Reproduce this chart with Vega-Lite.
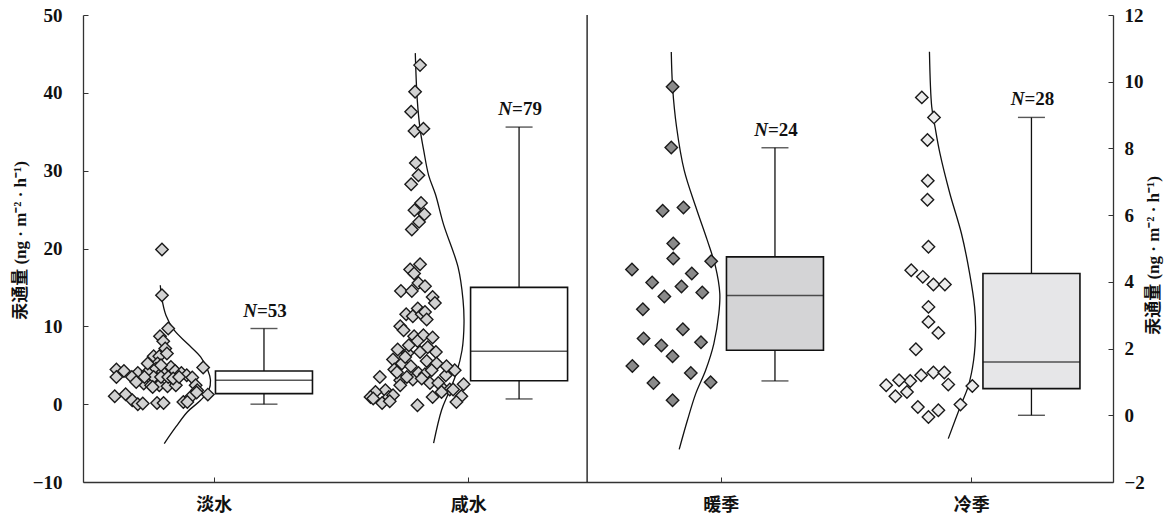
{
  "$schema": "https://vega.github.io/schema/vega-lite/v6.json",
  "width": 1030,
  "height": 467,
  "autosize": "none",
  "padding": {"left": 83, "top": 15, "right": 58, "bottom": 35},
  "background": "white",
  "config": {"view": {"stroke": null}, "font": "Liberation Serif"},
  "datasets": {
    "div": [{"x": 5.04}],
    "ptsL": [
      {"g":"淡水","x":0.747,"v":19.87},{"g":"淡水","x":0.747,"v":14.0},{"g":"淡水","x":0.81,"v":9.72},{"g":"淡水","x":0.727,"v":8.73},
      {"g":"淡水","x":0.76,"v":8.08},{"g":"淡水","x":0.78,"v":7.15},{"g":"淡水","x":0.663,"v":6.16},{"g":"淡水","x":0.72,"v":6.16},
      {"g":"淡水","x":0.797,"v":6.5},{"g":"淡水","x":0.703,"v":5.22},{"g":"淡水","x":1.163,"v":4.7},{"g":"淡水","x":0.287,"v":4.45},
      {"g":"淡水","x":0.363,"v":4.27},{"g":"淡水","x":0.503,"v":4.0},{"g":"淡水","x":0.443,"v":3.5},{"g":"淡水","x":0.603,"v":4.14},
      {"g":"淡水","x":0.687,"v":4.57},{"g":"淡水","x":0.753,"v":4.14},{"g":"淡水","x":0.837,"v":4.78},{"g":"淡水","x":0.88,"v":4.27},
      {"g":"淡水","x":0.943,"v":4.0},{"g":"淡水","x":0.997,"v":3.71},{"g":"淡水","x":1.053,"v":3.42},{"g":"淡水","x":0.287,"v":3.5},
      {"g":"淡水","x":0.563,"v":2.65},{"g":"淡水","x":0.637,"v":2.43},{"g":"淡水","x":0.72,"v":2.43},{"g":"淡水","x":0.803,"v":2.3},
      {"g":"淡水","x":0.887,"v":2.43},{"g":"淡水","x":0.663,"v":3.5},{"g":"淡水","x":0.737,"v":3.5},{"g":"淡水","x":0.81,"v":3.5},
      {"g":"淡水","x":1.087,"v":2.43},{"g":"淡水","x":1.103,"v":1.79},{"g":"淡水","x":0.27,"v":1.02},{"g":"淡水","x":0.38,"v":1.27},
      {"g":"淡水","x":0.447,"v":0.5},{"g":"淡水","x":0.503,"v":0.0},{"g":"淡水","x":0.553,"v":0.08},{"g":"淡水","x":0.697,"v":0.15},
      {"g":"淡水","x":0.763,"v":0.15},{"g":"淡水","x":0.963,"v":0.28},{"g":"淡水","x":1.037,"v":0.93},{"g":"淡水","x":1.097,"v":1.49},
      {"g":"淡水","x":1.21,"v":1.23},{"g":"淡水","x":0.86,"v":3.29},{"g":"淡水","x":0.92,"v":3.5},{"g":"淡水","x":0.603,"v":5.22},
      {"g":"淡水","x":0.653,"v":2.21},{"g":"淡水","x":0.737,"v":5.0},{"g":"淡水","x":0.57,"v":3.5},{"g":"淡水","x":1.003,"v":0.28},
      {"g":"淡水","x":0.487,"v":2.85},
      {"g":"咸水","x":3.353,"v":43.56},{"g":"咸水","x":3.303,"v":40.13},{"g":"咸水","x":3.263,"v":37.56},{"g":"咸水","x":3.297,"v":35.1},
      {"g":"咸水","x":3.387,"v":35.4},{"g":"咸水","x":3.31,"v":31.0},{"g":"咸水","x":3.337,"v":29.42},{"g":"咸水","x":3.263,"v":28.26},
      {"g":"咸水","x":3.363,"v":25.86},{"g":"咸水","x":3.297,"v":24.92},{"g":"咸水","x":3.397,"v":24.4},{"g":"咸水","x":3.343,"v":23.42},
      {"g":"咸水","x":3.27,"v":22.44},
      {"g":"咸水","x":3.353,"v":17.98},{"g":"咸水","x":3.253,"v":17.3},{"g":"咸水","x":3.293,"v":16.79},{"g":"咸水","x":3.337,"v":15.58},
      {"g":"咸水","x":3.16,"v":14.55},{"g":"咸水","x":3.27,"v":14.55},{"g":"咸水","x":3.403,"v":15.15},{"g":"咸水","x":3.48,"v":13.78},
      {"g":"咸水","x":3.503,"v":13.0},{"g":"咸水","x":3.33,"v":12.29},{"g":"咸水","x":3.213,"v":11.56},{"g":"咸水","x":3.28,"v":11.3},
      {"g":"咸水","x":3.37,"v":11.56},{"g":"咸水","x":3.403,"v":11.85},{"g":"咸水","x":3.42,"v":10.87},{"g":"咸水","x":3.153,"v":10.0},
      {"g":"咸水","x":3.187,"v":9.5},{"g":"咸水","x":3.293,"v":8.73},{"g":"咸水","x":3.387,"v":8.86},{"g":"咸水","x":3.48,"v":8.56},
      {"g":"咸水","x":3.327,"v":8.12},{"g":"咸水","x":3.127,"v":7.02},{"g":"咸水","x":3.227,"v":6.58},{"g":"咸水","x":3.353,"v":6.71},
      {"g":"咸水","x":3.513,"v":6.71},{"g":"咸水","x":3.08,"v":5.73},{"g":"咸水","x":3.17,"v":5.22},{"g":"咸水","x":3.26,"v":4.87},
      {"g":"咸水","x":3.42,"v":5.55},{"g":"咸水","x":3.52,"v":5.22},{"g":"咸水","x":3.093,"v":4.45},{"g":"咸水","x":2.947,"v":3.5},
      {"g":"咸水","x":3.153,"v":3.07},{"g":"咸水","x":3.28,"v":3.16},{"g":"咸水","x":3.337,"v":4.01},{"g":"咸水","x":3.403,"v":3.84},
      {"g":"咸水","x":3.613,"v":3.71},{"g":"咸水","x":3.703,"v":4.36},{"g":"咸水","x":3.153,"v":2.43},{"g":"咸水","x":3.453,"v":2.72},
      {"g":"咸水","x":3.537,"v":2.72},{"g":"咸水","x":3.593,"v":1.88},{"g":"咸水","x":3.653,"v":1.88},{"g":"咸水","x":3.793,"v":2.56},
      {"g":"咸水","x":3.003,"v":1.79},{"g":"咸水","x":2.903,"v":1.57},{"g":"咸水","x":2.853,"v":0.93},{"g":"咸水","x":2.88,"v":0.72},
      {"g":"咸水","x":3.037,"v":0.93},{"g":"咸水","x":3.08,"v":1.14},{"g":"咸水","x":2.97,"v":0.15},{"g":"咸水","x":3.047,"v":0.37},
      {"g":"咸水","x":3.48,"v":0.93},{"g":"咸水","x":3.687,"v":1.88},{"g":"咸水","x":3.77,"v":1.02},{"g":"咸水","x":3.72,"v":0.28},
      {"g":"咸水","x":3.327,"v":-0.14},{"g":"咸水","x":3.37,"v":3.29},{"g":"咸水","x":3.22,"v":3.5},{"g":"咸水","x":3.57,"v":1.57},
      {"g":"咸水","x":3.203,"v":6.07},{"g":"咸水","x":3.47,"v":4.36},{"g":"咸水","x":3.12,"v":4.1},{"g":"咸水","x":3.62,"v":4.87},
      {"g":"咸水","x":3.43,"v":7.31},{"g":"咸水","x":3.24,"v":7.57}
    ],
    "ptsR": [
      {"g":"暖季","x":5.903,"v":9.85},{"g":"暖季","x":5.89,"v":8.03},{"g":"暖季","x":5.803,"v":6.13},{"g":"暖季","x":6.013,"v":6.23},
      {"g":"暖季","x":5.91,"v":5.15},{"g":"暖季","x":5.91,"v":4.7},{"g":"暖季","x":6.293,"v":4.62},{"g":"暖季","x":5.493,"v":4.37},
      {"g":"暖季","x":6.097,"v":4.25},{"g":"暖季","x":5.697,"v":3.98},{"g":"暖季","x":5.993,"v":3.86},{"g":"暖季","x":6.203,"v":3.68},
      {"g":"暖季","x":5.82,"v":3.56},{"g":"暖季","x":5.603,"v":3.18},{"g":"暖季","x":6.007,"v":2.58},{"g":"暖季","x":5.61,"v":2.3},
      {"g":"暖季","x":5.79,"v":2.09},{"g":"暖季","x":6.19,"v":2.19},{"g":"暖季","x":5.903,"v":1.77},{"g":"暖季","x":5.497,"v":1.48},
      {"g":"暖季","x":6.087,"v":1.27},{"g":"暖季","x":5.71,"v":0.97},{"g":"暖季","x":6.287,"v":0.99},{"g":"暖季","x":5.903,"v":0.45},
      {"g":"冷季","x":8.42,"v":9.53},{"g":"冷季","x":8.543,"v":8.93},{"g":"冷季","x":8.477,"v":8.25},{"g":"冷季","x":8.48,"v":7.03},
      {"g":"冷季","x":8.477,"v":6.46},{"g":"冷季","x":8.487,"v":5.05},{"g":"冷季","x":8.313,"v":4.35},{"g":"冷季","x":8.43,"v":4.15},
      {"g":"冷季","x":8.537,"v":3.92},{"g":"冷季","x":8.653,"v":3.92},{"g":"冷季","x":8.487,"v":3.25},{"g":"冷季","x":8.487,"v":2.8},
      {"g":"冷季","x":8.587,"v":2.47},{"g":"冷季","x":8.36,"v":1.98},{"g":"冷季","x":8.06,"v":0.9},{"g":"冷季","x":8.153,"v":0.57},
      {"g":"冷季","x":8.27,"v":0.7},{"g":"冷季","x":8.303,"v":1.03},{"g":"冷季","x":8.413,"v":1.2},{"g":"冷季","x":8.537,"v":1.28},
      {"g":"冷季","x":8.647,"v":1.28},{"g":"冷季","x":8.687,"v":0.92},{"g":"冷季","x":8.93,"v":0.88},{"g":"冷季","x":8.81,"v":0.32},
      {"g":"冷季","x":8.38,"v":0.25},{"g":"冷季","x":8.487,"v":-0.05},{"g":"冷季","x":8.587,"v":0.15},{"g":"冷季","x":8.19,"v":1.05}
    ],
    "curveL": [
      {"g":"淡水","x":0.73,"v":15.28},{"g":"淡水","x":0.743,"v":13.78},{"g":"淡水","x":0.787,"v":11.43},{"g":"淡水","x":0.87,"v":9.5},
      {"g":"淡水","x":1.003,"v":7.79},{"g":"淡水","x":1.137,"v":6.07},{"g":"淡水","x":1.21,"v":4.36},{"g":"淡水","x":1.237,"v":3.07},
      {"g":"淡水","x":1.22,"v":1.79},{"g":"淡水","x":1.137,"v":0.5},{"g":"淡水","x":1.003,"v":-1.0},{"g":"淡水","x":0.887,"v":-2.93},
      {"g":"淡水","x":0.77,"v":-5.06},
      {"g":"咸水","x":3.305,"v":45.1},{"g":"咸水","x":3.325,"v":39.06},{"g":"咸水","x":3.355,"v":35.2},{"g":"咸水","x":3.39,"v":32.6},
      {"g":"咸水","x":3.44,"v":29.4},{"g":"咸水","x":3.51,"v":26.9},{"g":"咸水","x":3.59,"v":23.1},{"g":"咸水","x":3.737,"v":17.6},
      {"g":"咸水","x":3.787,"v":13.4},{"g":"咸水","x":3.797,"v":10.4},{"g":"咸水","x":3.777,"v":6.93},{"g":"咸水","x":3.72,"v":3.98},
      {"g":"咸水","x":3.64,"v":1.41},{"g":"咸水","x":3.57,"v":-0.78},{"g":"咸水","x":3.49,"v":-5.0}
    ],
    "curveR": [
      {"g":"暖季","x":5.89,"v":10.89},{"g":"暖季","x":5.903,"v":9.85},{"g":"暖季","x":5.943,"v":8.65},{"g":"暖季","x":6.02,"v":7.35},
      {"g":"暖季","x":6.137,"v":6.25},{"g":"暖季","x":6.253,"v":5.25},{"g":"暖季","x":6.337,"v":4.45},{"g":"暖季","x":6.38,"v":3.65},
      {"g":"暖季","x":6.37,"v":3.05},{"g":"暖季","x":6.32,"v":2.15},{"g":"暖季","x":6.237,"v":1.35},{"g":"暖季","x":6.137,"v":0.65},
      {"g":"暖季","x":6.053,"v":-0.15},{"g":"暖季","x":5.97,"v":-1.02},
      {"g":"冷季","x":8.497,"v":10.9},{"g":"冷季","x":8.52,"v":9.25},{"g":"冷季","x":8.553,"v":8.65},{"g":"冷季","x":8.603,"v":7.85},
      {"g":"冷季","x":8.703,"v":6.65},{"g":"冷季","x":8.82,"v":5.45},{"g":"冷季","x":8.903,"v":4.25},{"g":"冷季","x":8.953,"v":3.25},
      {"g":"冷季","x":8.963,"v":2.55},{"g":"冷季","x":8.943,"v":1.65},{"g":"冷季","x":8.887,"v":0.85},{"g":"冷季","x":8.82,"v":0.35},
      {"g":"冷季","x":8.687,"v":-0.7}
    ],
    "boxL": [
      {"g":"淡水","x":1.777,"lo":0.0,"q1":1.36,"med":3.07,"q3":4.27,"hi":9.72,"n":53},
      {"g":"咸水","x":4.353,"lo":0.67,"q1":3.0,"med":6.8,"q3":15.0,"hi":35.6,"n":79}
    ],
    "boxR": [
      {"g":"暖季","x":6.937,"lo":1.03,"q1":1.95,"med":3.59,"q3":4.75,"hi":8.02,"n":24},
      {"g":"冷季","x":9.527,"lo":0.0,"q1":0.8,"med":1.6,"q3":4.25,"hi":8.93,"n":28}
    ]
  },
  "encoding": {
    "x": {"field": "x", "type": "quantitative", "scale": {"domain": [0, 10.3], "nice": false, "zero": false},
      "axis": {"values": [1.27, 3.84, 6.39, 8.92], "labelExpr": "datum.value < 2 ? '淡水' : datum.value < 5 ? '咸水' : datum.value < 7.5 ? '暖季' : '冷季'",
        "title": null, "grid": false, "domainColor": "#333", "domainWidth": 1.3, "tickColor": "#333", "tickSize": -5,
        "labelFont": "Noto Sans CJK SC", "labelFontWeight": "bold", "labelFontSize": 18, "labelColor": "#111", "labelPadding": 19}}
  },
  "layer": [
    {
      "data": {"name": "div"},
      "mark": {"type": "rule", "color": "#111", "strokeWidth": 1.3},
      "encoding": {}
    },
    {
      "data": {"name": "curveL"},
      "mark": {"type": "line", "color": "#111", "strokeWidth": 1.3, "interpolate": "catmull-rom"},
      "encoding": {
        "y": {"field": "v", "type": "quantitative", "scale": {"domain": [-10, 50], "nice": false, "zero": false}, "axis": null},
        "detail": {"field": "g"},
        "order": {"field": "v", "sort": "descending"}
      }
    },
    {
      "data": {"name": "ptsL"},
      "mark": {"type": "point", "shape": "diamond", "filled": true, "size": 155, "stroke": "#1a1a1a", "strokeWidth": 1.4, "opacity": 1},
      "encoding": {
        "y": {"field": "v", "type": "quantitative", "scale": {"domain": [-10, 50], "nice": false, "zero": false},
          "axis": {"orient": "left", "values": [-10, 0, 10, 20, 30, 40, 50], "title": "汞通量 (ng · m⁻² · h⁻¹)", "grid": false,
            "domainColor": "#333", "domainWidth": 1.3, "tickColor": "#333", "tickSize": -5,
            "labelFont": "Liberation Serif", "labelFontWeight": "bold", "labelFontSize": 19, "labelColor": "#111", "labelPadding": 26,
            "titleFont": "Liberation Serif, Noto Sans CJK SC", "titleFontWeight": "bold", "titleFontSize": 17, "titleColor": "#111",
            "titleX": -63, "titleY": 225, "titleBaseline": "middle", "titleAngle": 270}},
        "fill": {"field": "g", "type": "nominal", "scale": {"domain": ["淡水", "咸水", "暖季", "冷季"], "range": ["#d2d2d2", "#d2d2d2", "#8a8a8a", "#ececec"]}, "legend": null}
      }
    },
    {"data": {"name": "boxL"}, "mark": {"type": "rule", "color": "#111", "strokeWidth": 1.3},
     "encoding": {
       "y": {"field": "lo", "type": "quantitative", "scale": {"domain": [-10, 50], "nice": false, "zero": false}, "axis": null},
       "y2": {"field": "hi"}}},
    {"data": {"name": "boxL"}, "mark": {"type": "tick", "orient": "horizontal", "color": "#111", "size": 27, "thickness": 1.4},
     "encoding": {
       "y": {"field": "lo", "type": "quantitative", "scale": {"domain": [-10, 50], "nice": false, "zero": false}, "axis": null}}},
    {"data": {"name": "boxL"}, "mark": {"type": "tick", "orient": "horizontal", "color": "#111", "size": 27, "thickness": 1.4},
     "encoding": {
       "y": {"field": "hi", "type": "quantitative", "scale": {"domain": [-10, 50], "nice": false, "zero": false}, "axis": null}}},
    {"data": {"name": "boxL"}, "mark": {"type": "bar", "width": 97, "stroke": "#111", "strokeWidth": 1.6, "fillOpacity": 1},
     "encoding": {
       "y": {"field": "q1", "type": "quantitative", "scale": {"domain": [-10, 50], "nice": false, "zero": false}, "axis": null},
       "y2": {"field": "q3"},
       "color": {"field": "g", "type": "nominal", "scale": {"domain": ["淡水", "咸水", "暖季", "冷季"], "range": ["#ffffff", "#ffffff", "#d4d4d6", "#e6e6e8"]}, "legend": null}}},
    {"data": {"name": "boxL"}, "mark": {"type": "tick", "orient": "horizontal", "color": "#111", "size": 97, "thickness": 1.5},
     "encoding": {
       "y": {"field": "med", "type": "quantitative", "scale": {"domain": [-10, 50], "nice": false, "zero": false}, "axis": null}}},
    {"data": {"name": "boxL"}, "mark": {"type": "text", "text": "N", "fontStyle": "italic", "fontWeight": "bold", "fontSize": 19, "font": "Liberation Serif", "align": "right", "baseline": "alphabetic", "dx": -7, "dy": -12, "color": "#111"},
     "encoding": {
       "y": {"field": "hi", "type": "quantitative", "scale": {"domain": [-10, 50], "nice": false, "zero": false}, "axis": null}}},
    {"data": {"name": "boxL"}, "transform": [{"calculate": "'=' + datum.n", "as": "lab"}],
     "mark": {"type": "text", "fontWeight": "bold", "fontSize": 19, "font": "Liberation Serif", "align": "left", "baseline": "alphabetic", "dx": -7, "dy": -12, "color": "#111"},
     "encoding": {
       "y": {"field": "hi", "type": "quantitative", "scale": {"domain": [-10, 50], "nice": false, "zero": false}, "axis": null},
       "text": {"field": "lab"}}},
    {
      "data": {"name": "curveR"},
      "mark": {"type": "line", "color": "#111", "strokeWidth": 1.3, "interpolate": "catmull-rom"},
      "encoding": {
        "y": {"field": "v", "type": "quantitative", "scale": {"domain": [-2, 12], "nice": false, "zero": false}, "axis": null},
        "detail": {"field": "g"},
        "order": {"field": "v", "sort": "descending"}
      }
    },
    {
      "data": {"name": "ptsR"},
      "mark": {"type": "point", "shape": "diamond", "filled": true, "size": 155, "stroke": "#1a1a1a", "strokeWidth": 1.4, "opacity": 1},
      "encoding": {
        "y": {"field": "v", "type": "quantitative", "scale": {"domain": [-2, 12], "nice": false, "zero": false},
          "axis": {"orient": "right", "values": [-2, 0, 2, 4, 6, 8, 10, 12], "title": "汞通量 (ng · m⁻² · h⁻¹)", "grid": false,
            "domainColor": "#333", "domainWidth": 1.3, "tickColor": "#333", "tickSize": -5,
            "labelFont": "Liberation Serif", "labelFontWeight": "bold", "labelFontSize": 19, "labelColor": "#111", "labelPadding": 16,
            "titleFont": "Liberation Serif, Noto Sans CJK SC", "titleFontWeight": "bold", "titleFontSize": 17, "titleColor": "#111",
            "titleX": 40, "titleY": 240, "titleBaseline": "middle", "titleAngle": 270}},
        "fill": {"field": "g", "type": "nominal", "scale": {"domain": ["淡水", "咸水", "暖季", "冷季"], "range": ["#d2d2d2", "#d2d2d2", "#8a8a8a", "#ececec"]}, "legend": null}
      }
    },
    {"data": {"name": "boxR"}, "mark": {"type": "rule", "color": "#111", "strokeWidth": 1.3},
     "encoding": {
       "y": {"field": "lo", "type": "quantitative", "scale": {"domain": [-2, 12], "nice": false, "zero": false}, "axis": null},
       "y2": {"field": "hi"}}},
    {"data": {"name": "boxR"}, "mark": {"type": "tick", "orient": "horizontal", "color": "#111", "size": 27, "thickness": 1.4},
     "encoding": {
       "y": {"field": "lo", "type": "quantitative", "scale": {"domain": [-2, 12], "nice": false, "zero": false}, "axis": null}}},
    {"data": {"name": "boxR"}, "mark": {"type": "tick", "orient": "horizontal", "color": "#111", "size": 27, "thickness": 1.4},
     "encoding": {
       "y": {"field": "hi", "type": "quantitative", "scale": {"domain": [-2, 12], "nice": false, "zero": false}, "axis": null}}},
    {"data": {"name": "boxR"}, "mark": {"type": "bar", "width": 97, "stroke": "#111", "strokeWidth": 1.6, "fillOpacity": 1},
     "encoding": {
       "y": {"field": "q1", "type": "quantitative", "scale": {"domain": [-2, 12], "nice": false, "zero": false}, "axis": null},
       "y2": {"field": "q3"},
       "color": {"field": "g", "type": "nominal", "scale": {"domain": ["淡水", "咸水", "暖季", "冷季"], "range": ["#ffffff", "#ffffff", "#d4d4d6", "#e6e6e8"]}, "legend": null}}},
    {"data": {"name": "boxR"}, "mark": {"type": "tick", "orient": "horizontal", "color": "#111", "size": 97, "thickness": 1.5},
     "encoding": {
       "y": {"field": "med", "type": "quantitative", "scale": {"domain": [-2, 12], "nice": false, "zero": false}, "axis": null}}},
    {"data": {"name": "boxR"}, "mark": {"type": "text", "text": "N", "fontStyle": "italic", "fontWeight": "bold", "fontSize": 19, "font": "Liberation Serif", "align": "right", "baseline": "alphabetic", "dx": -7, "dy": -12, "color": "#111"},
     "encoding": {
       "y": {"field": "hi", "type": "quantitative", "scale": {"domain": [-2, 12], "nice": false, "zero": false}, "axis": null}}},
    {"data": {"name": "boxR"}, "transform": [{"calculate": "'=' + datum.n", "as": "lab"}],
     "mark": {"type": "text", "fontWeight": "bold", "fontSize": 19, "font": "Liberation Serif", "align": "left", "baseline": "alphabetic", "dx": -7, "dy": -12, "color": "#111"},
     "encoding": {
       "y": {"field": "hi", "type": "quantitative", "scale": {"domain": [-2, 12], "nice": false, "zero": false}, "axis": null},
       "text": {"field": "lab"}}}
  ],
  "resolve": {"scale": {"y": "independent"}}
}
